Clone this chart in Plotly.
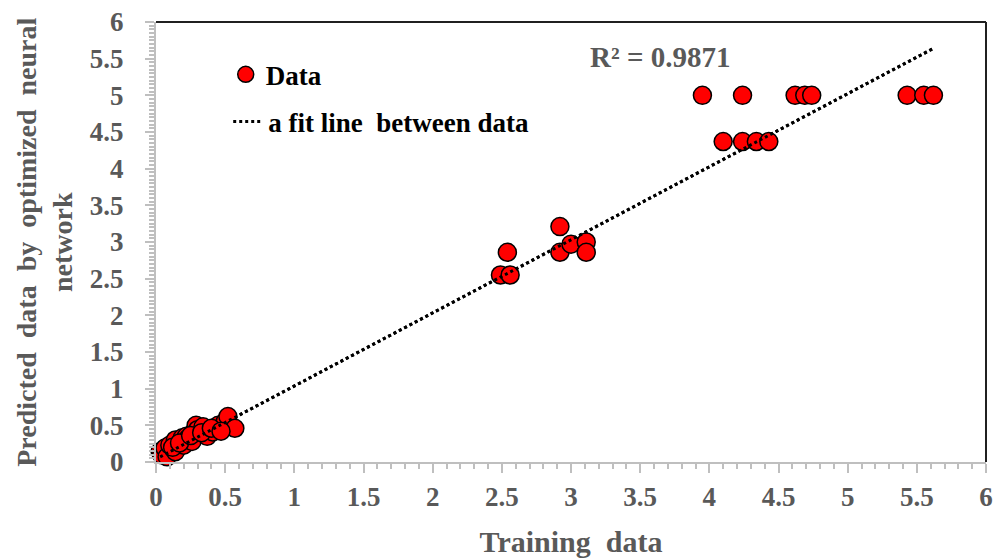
import plotly.graph_objects as go

# training (x) vs predicted (y) values
train_x = [0.03, 0.04, 0.065, 0.08, 0.10, 0.14, 0.14, 0.19, 0.20, 0.22, 0.23,
           0.26, 0.27, 0.29, 0.30, 0.34, 0.37, 0.41, 0.45, 0.50, 0.52, 0.57,
           0.12, 0.17, 0.25, 0.33, 0.40, 0.47,
           2.49, 2.54, 2.56, 2.92, 2.92, 3.00, 3.11, 3.11,
           4.10, 4.24, 4.34, 4.43,
           3.95, 4.24, 4.62, 4.69, 4.74, 5.43, 5.55, 5.62]
pred_y = [0.14, 0.10, 0.19, 0.07, 0.23, 0.30, 0.14, 0.33, 0.23, 0.35, 0.32,
          0.28, 0.40, 0.50, 0.44, 0.48, 0.35, 0.41, 0.50, 0.55, 0.62, 0.46,
          0.20, 0.26, 0.36, 0.40, 0.46, 0.42,
          2.55, 2.86, 2.55, 3.21, 2.86, 2.97, 3.00, 2.86,
          4.37, 4.37, 4.37, 4.37,
          5.00, 5.00, 5.00, 5.00, 5.00, 5.00, 5.00, 5.00]

# linear fit end points
fit_x = [0.03, 5.62]
fit_y = [0.07, 5.64]
r2_label = "R² = 0.9871"

grey = "#595959"
axis_grey = "#bfbfbf"
serif = "Liberation Serif, Times New Roman, serif"

fig = go.Figure()

fig.add_trace(go.Scatter(
    x=fit_x, y=fit_y, mode="lines", name="a fit line  between data",
    line=dict(color="black", width=3, dash="dot"),
    legend="legend2", hoverinfo="skip"
))

fig.add_trace(go.Scatter(
    x=train_x, y=pred_y, mode="markers", name="Data",
    marker=dict(size=18, color="#ff0000", line=dict(color="black", width=1.5)),
    legend="legend", cliponaxis=False
))

# the fit line is drawn over the markers in the original
fig.add_trace(go.Scatter(
    x=fit_x, y=fit_y, mode="lines", showlegend=False,
    line=dict(color="black", width=3, dash="dot"), hoverinfo="skip"
))

fig.add_annotation(
    x=3.64, y=5.52, text="<b>" + r2_label + "</b>", showarrow=False,
    font=dict(family=serif, size=29, color=grey)
)

fig.add_annotation(
    xref="paper", yref="paper", x=-0.178, y=0.5,
    text="<b>Predicted  data  by  optimized  neural<br>network</b>",
    textangle=-90, showarrow=False,
    font=dict(family=serif, size=28, color=grey)
)

# black frame on top and right
fig.add_shape(type="line", xref="paper", yref="paper", x0=0, x1=1, y0=1, y1=1,
              line=dict(color="#202020", width=2))
fig.add_shape(type="line", xref="paper", yref="paper", x0=1, x1=1, y0=0, y1=1,
              line=dict(color="#202020", width=2))

axis_common = dict(
    range=[0, 6], dtick=0.5, showgrid=False, zeroline=False,
    showline=True, linecolor=axis_grey, linewidth=2, automargin=False,
    ticks="outside", ticklen=9, tickwidth=2, tickcolor=axis_grey,
    tickfont=dict(family=serif, size=27, color=grey, weight="bold"),
)

fig.update_xaxes(
    **axis_common,
    minor=dict(dtick=0.1, ticks="outside", ticklen=5, tickcolor=axis_grey, tickwidth=1.5),
    ticklabelstandoff=1,
    title=dict(text="<b>Training  data</b>", font=dict(family=serif, size=30, color=grey), standoff=38),
)
fig.update_yaxes(
    **axis_common,
    minor=dict(dtick=0.05, ticks="outside", ticklen=5, tickcolor=axis_grey, tickwidth=1.5),
    ticklabelstandoff=16,
)

fig.update_layout(
    width=1005, height=558,
    margin=dict(l=156, r=19, t=22, b=96),
    plot_bgcolor="white", paper_bgcolor="white",
    font=dict(family=serif),
    legend=dict(
        x=0.084, y=0.88, xanchor="left", yanchor="middle",
        bgcolor="rgba(0,0,0,0)",
        font=dict(family=serif, size=27, color="black", weight="bold"),
    ),
    legend2=dict(
        x=0.087, y=0.773, xanchor="left", yanchor="middle",
        bgcolor="rgba(0,0,0,0)",
        font=dict(family=serif, size=27, color="black", weight="bold"),
    ),
)

fig.write_html("out.html", config={"displayModeBar": False},
               post_script="document.body.style.margin='0';")
